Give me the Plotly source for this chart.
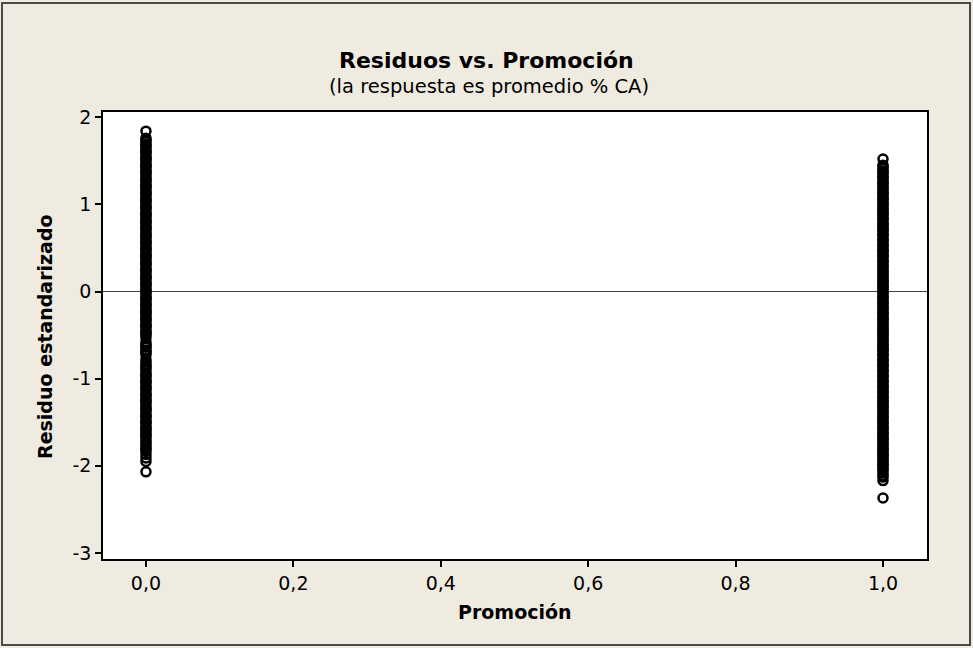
import plotly.graph_objects as go

# Standardized residuals by promotion group (0 = no promotion, 1 = promotion)
promo_groups = [0.0, 1.0]

resid_sin_promo = [
    1.84, 1.76, 1.72, 1.69, 1.66, 1.63, 1.61, 1.58, 1.55, 1.53, 1.50, 1.47,
    1.45, 1.42, 1.39, 1.37, 1.34, 1.31, 1.29, 1.26, 1.23, 1.21, 1.18, 1.15,
    1.13, 1.10, 1.07, 1.05, 1.02, 0.99, 0.97, 0.94, 0.91, 0.89, 0.86, 0.83,
    0.81, 0.78, 0.75, 0.73, 0.70, 0.67, 0.65, 0.62, 0.59, 0.57, 0.54, 0.51,
    0.49, 0.46, 0.43, 0.41, 0.38, 0.35, 0.33, 0.30, 0.27, 0.25, 0.22, 0.19,
    0.17, 0.14, 0.11, 0.09, 0.06, 0.03, 0.01, -0.02, -0.05, -0.07, -0.10,
    -0.13, -0.15, -0.18, -0.21, -0.23, -0.26, -0.29, -0.31, -0.34, -0.37,
    -0.39, -0.42, -0.45, -0.47, -0.50, -0.53, -0.58, -0.61, -0.64, -0.67,
    -0.70, -0.73, -0.78, -0.81, -0.84, -0.88, -0.91, -0.94, -0.97, -1.00,
    -1.03, -1.06, -1.09, -1.12, -1.15, -1.18, -1.21, -1.24, -1.27, -1.30,
    -1.33, -1.36, -1.39, -1.42, -1.45, -1.48, -1.51, -1.54, -1.57, -1.60,
    -1.63, -1.66, -1.69, -1.72, -1.76, -1.79, -1.83, -1.87, -1.91, -1.95,
    -2.07,
    1.74, 1.67, 1.60, 1.52, 1.44, 1.36, 1.28, 1.20, 1.12, 1.04, 0.96, 0.88,
    0.80, 0.72, 0.64, 0.56, 0.48, 0.40, 0.32, 0.24, 0.16, 0.08, 0.00, -0.08,
    -0.16, -0.24, -0.32, -0.40, -0.48, -0.62, -0.69, -0.86, -0.96, -1.04,
    -1.11, -1.19, -1.26, -1.35, -1.43, -1.50, -1.58, -1.65, -1.74, -1.81,
]

resid_con_promo = [
    1.52, 1.45, 1.41, 1.38, 1.35, 1.32, 1.29, 1.26, 1.23, 1.20, 1.17, 1.14,
    1.11, 1.08, 1.05, 1.02, 0.99, 0.96, 0.93, 0.90, 0.87, 0.84, 0.81, 0.78,
    0.75, 0.72, 0.69, 0.66, 0.63, 0.60, 0.57, 0.54, 0.51, 0.48, 0.45, 0.42,
    0.39, 0.36, 0.33, 0.30, 0.27, 0.24, 0.21, 0.18, 0.15, 0.12, 0.09, 0.06,
    0.03, 0.00, -0.03, -0.06, -0.09, -0.12, -0.15, -0.18, -0.21, -0.24,
    -0.27, -0.30, -0.33, -0.36, -0.39, -0.42, -0.45, -0.48, -0.51, -0.54,
    -0.57, -0.60, -0.63, -0.66, -0.69, -0.72, -0.75, -0.78, -0.81, -0.84,
    -0.87, -0.90, -0.93, -0.96, -0.99, -1.02, -1.05, -1.08, -1.11, -1.14,
    -1.17, -1.20, -1.23, -1.26, -1.29, -1.32, -1.35, -1.38, -1.41, -1.44,
    -1.47, -1.50, -1.53, -1.56, -1.59, -1.62, -1.65, -1.68, -1.71, -1.74,
    -1.77, -1.80, -1.83, -1.86, -1.89, -1.92, -1.95, -1.98, -2.01, -2.04,
    -2.08, -2.13, -2.17, -2.37,
    1.43, 1.37, 1.31, 1.25, 1.19, 1.13, 1.07, 1.01, 0.95, 0.89, 0.83, 0.77,
    0.71, 0.65, 0.59, 0.53, 0.47, 0.41, 0.35, 0.29, 0.23, 0.17, 0.11, 0.05,
    -0.01, -0.07, -0.13, -0.19, -0.25, -0.31, -0.37, -0.43, -0.49, -0.55,
    -0.61, -0.67, -0.73, -0.79, -0.85, -0.91, -0.97, -1.03, -1.09, -1.15,
    -1.21, -1.27, -1.33, -1.39, -1.45, -1.51, -1.57, -1.63, -1.69, -1.75,
    -1.81, -1.87, -1.93, -1.99, -2.05, -2.11,
]

x_ticks = [0.0, 0.2, 0.4, 0.6, 0.8, 1.0]
y_ticks = [-3, -2, -1, 0, 1, 2]

FONT = "DejaVu Sans"
BG = "#EFEBE0"
PLOT_L, PLOT_R, PLOT_T, PLOT_B = 103, 927, 112, 559


def px_to_paper_x(px):
    return (px - PLOT_L) / (PLOT_R - PLOT_L)


def px_to_paper_y(py):
    return (PLOT_B - py) / (PLOT_B - PLOT_T)


xs = [promo_groups[0]] * len(resid_sin_promo) + [promo_groups[1]] * len(resid_con_promo)
ys = resid_sin_promo + resid_con_promo

fig = go.Figure()
fig.add_trace(go.Scatter(
    x=xs, y=ys, mode="markers",
    marker=dict(symbol="circle-open", size=9, color="black",
                line=dict(width=2.5, color="black")),
    showlegend=False, hoverinfo="x+y",
))

axis_common = dict(
    showgrid=False, showline=True, linecolor="black", linewidth=1.5,
    mirror=True, ticks="outside", ticklen=6, tickwidth=1.5, tickcolor="black",
    tickfont=dict(family=FONT, size=19, color="black"),
)

annotations = [
    dict(text="<b>Residuos vs. Promoción</b>", x=px_to_paper_x(486), y=px_to_paper_y(60),
         xref="paper", yref="paper", xanchor="center", yanchor="middle", showarrow=False,
         font=dict(family=FONT, size=22, color="black")),
    dict(text="(la respuesta es promedio % CA)", x=px_to_paper_x(489), y=px_to_paper_y(86),
         xref="paper", yref="paper", xanchor="center", yanchor="middle", showarrow=False,
         font=dict(family=FONT, size=19.5, color="black")),
    dict(text="<b>Promoción</b>", x=0.5, y=px_to_paper_y(612),
         xref="paper", yref="paper", xanchor="center", yanchor="middle", showarrow=False,
         font=dict(family=FONT, size=19, color="black")),
    dict(text="<b>Residuo estandarizado</b>", x=px_to_paper_x(45), y=px_to_paper_y(337),
         xref="paper", yref="paper", xanchor="center", yanchor="middle", showarrow=False,
         textangle=-90, font=dict(family=FONT, size=19, color="black")),
]

fig.update_layout(
    width=973, height=648,
    paper_bgcolor=BG, plot_bgcolor="white",
    separators=", ",
    margin=dict(l=PLOT_L, r=973 - PLOT_R, t=PLOT_T, b=648 - PLOT_B),
    xaxis=dict(
        range=[-0.0583, 1.0597], tickvals=x_ticks, tickformat=".1f",
        zeroline=False, **axis_common,
    ),
    yaxis=dict(
        range=[-3.07, 2.06], tickvals=y_ticks, ticktext=[str(v) for v in y_ticks],
        zeroline=True, zerolinecolor="#404040", zerolinewidth=1,
        **axis_common,
    ),
    annotations=annotations,
    shapes=[dict(
        type="rect", xref="paper", yref="paper",
        x0=px_to_paper_x(2), x1=px_to_paper_x(970),
        y0=px_to_paper_y(645), y1=px_to_paper_y(3),
        line=dict(color="#4a4a4a", width=2), fillcolor="rgba(0,0,0,0)", layer="below",
    )],
)

fig.write_html("out.html")
